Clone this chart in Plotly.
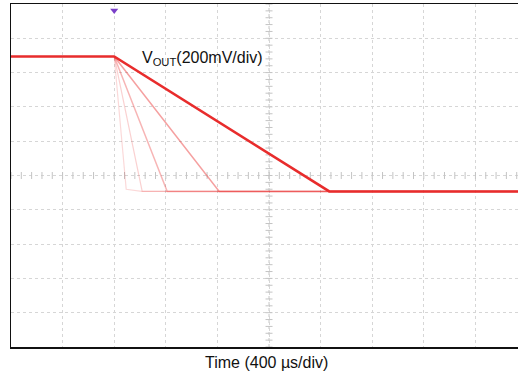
import numpy as np
import plotly.graph_objects as go

# Time in µs relative to trigger (400 µs/div), voltage offset in mV (200 mV/div)
x_start, x_end = -800, 3130
v_high = 694
v_low = -93
# ramp end times (µs) of the overlaid discharge traces, and their opacity
ramp_end_times = [93, 217, 411, 814, 1667]
ramp_end_levels = [-80, -93, -93, -93, -93]
ramp_opacity = [0.18, 0.22, 0.35, 0.45, 1.0]
ramp_width = [1.2, 1.2, 1.5, 1.5, 2.6]

trigger_time = 0
trigger_level = 962

red = "232,44,44"
fig = go.Figure()

# center crosshair minor ticks (0.2 div)
cx = 1200
xt = np.arange(x_start, x_end + 1, 80)
yt = np.arange(-1000, 1001, 40)
fig.add_trace(go.Scatter(x=xt, y=np.zeros_like(xt), mode="markers",
                         marker=dict(symbol="line-ns", size=5, line=dict(width=1, color="#c4c4c4")),
                         hoverinfo="skip", showlegend=False))
fig.add_trace(go.Scatter(x=np.full_like(yt, cx), y=yt, mode="markers",
                         marker=dict(symbol="line-ew", size=5, line=dict(width=1, color="#c4c4c4")),
                         hoverinfo="skip", showlegend=False))

for t_end, v_end, op, w in zip(ramp_end_times, ramp_end_levels, ramp_opacity, ramp_width):
    xs = [x_start, 0, t_end, x_end] if op == 1.0 else [0, t_end, t_end + 120, x_end]
    ys = [v_high, v_high, v_end, v_low] if op == 1.0 else [v_high, v_end, v_low, v_low]
    fig.add_trace(go.Scatter(x=xs, y=ys, mode="lines",
                             line=dict(color=f"rgba({red},{op})", width=w),
                             hoverinfo="skip", showlegend=False))

# trigger marker
fig.add_trace(go.Scatter(x=[trigger_time], y=[trigger_level], mode="markers",
                         marker=dict(symbol="triangle-down", size=7, color="#7a3fc8"),
                         hoverinfo="skip", showlegend=False))

fig.add_annotation(x=-800 + (140 - 11) / 51.6 * 400, xref="x", xanchor="left",
                   y=v_high - 14, yref="y", yanchor="middle",
                   text="V<sub>OUT</sub>(200mV/div)", showarrow=False,
                   font=dict(family="Liberation Sans, Arial", size=16, color="#111111"))
fig.add_annotation(x=-800 + (266.5 - 11) / 51.6 * 400, xref="x", xanchor="center",
                   y=0, yref="paper", yanchor="top", yshift=-5,
                   text="Time (400 µs/div)", showarrow=False,
                   font=dict(family="Liberation Sans, Arial", size=16, color="#111111"))

fig.update_layout(
    width=518, height=372,
    margin=dict(l=11, r=0, t=4, b=25),
    paper_bgcolor="white", plot_bgcolor="white",
    font=dict(family="Liberation Sans, Arial", size=16, color="#111111"),
    xaxis=dict(range=[x_start, x_end], dtick=400, tick0=0, showgrid=True,
               gridcolor="#d6d6d6", griddash="dot", gridwidth=1,
               showline=True, mirror=True, linecolor="#111111", linewidth=1.5,
               showticklabels=False, ticks="", zeroline=False, automargin=False),
    yaxis=dict(range=[-1000, 1000], dtick=200, tick0=0, showgrid=True,
               gridcolor="#d6d6d6", griddash="dot", gridwidth=1,
               showline=True, mirror=False, linecolor="#111111", linewidth=1.5,
               showticklabels=False, ticks="", zeroline=False, automargin=False),
)
fig.add_shape(type="line", xref="x", yref="y", x0=cx, x1=cx, y0=-1000, y1=1000,
              line=dict(color="#c8c8c8", width=1, dash="dot"), layer="below")
fig.add_shape(type="line", xref="x", yref="y", x0=x_start, x1=x_end, y0=0, y1=0,
              line=dict(color="#c8c8c8", width=1, dash="dot"), layer="below")

fig.write_html("out.html", config={"displayModeBar": False, "staticPlot": True},
               post_script="document.body.style.margin='0px';document.body.style.overflow='hidden';")
